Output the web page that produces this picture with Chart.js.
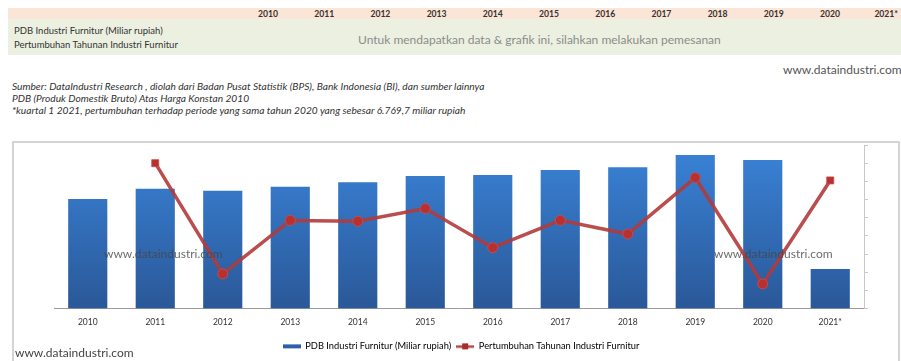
<!DOCTYPE html>
<html>
<head>
<meta charset="utf-8">
<script src="https://cdn.jsdelivr.net/npm/chart.js@4.4.0/dist/chart.umd.min.js"></script>
<style>
    body { margin: 0; width: 901px; height: 361px; background: #fff; font-family: Lato, "Open Sans", sans-serif; position: relative; overflow: hidden; }
    .abs { position: absolute; white-space: nowrap; }
    #head { left: 8px; top: 8px; width: 893px; height: 11px; background: #fbe5d6; }
    #rows { left: 8px; top: 19px; width: 893px; height: 36px; background: #ebf0e1; }
    .yr { font-size: 8.6px; font-weight: bold; color: #333; top: 9px; transform: translateX(-50%); }
    .rowlbl { font-size: 9.5px; color: #333; left: 14px; }
    .src { font-size: 10.2px; font-style: italic; color: #333; left: 12px; }
    .wm { font-size: 12px; color: #555; }
    #box { left: 12px; top: 141px; width: 884px; height: 218px; border: 2px solid #d4d4d4; border-bottom-width: 1px; }
    #wrap { left: 13px; top: 142px; width: 883px; height: 219px; }
</style>
</head>
<body>
<div class="abs" id="head"></div>
<div class="abs" id="rows"></div>
<div id="years"></div>
<div class="abs rowlbl" style="top:25px">PDB Industri Furnitur (Miliar rupiah)</div>
<div class="abs rowlbl" style="top:39px">Pertumbuhan Tahunan Industri Furnitur</div>
<div class="abs" style="left:358px; top:32px; font-size:12px; color:#8c8c8c">Untuk mendapatkan data &amp; grafik ini, silahkan melakukan pemesanan</div>
<div class="abs wm" style="left:783px; top:62px">www.dataindustri.com</div>
<div class="abs src" style="top:80px">Sumber: DataIndustri Research , diolah dari Badan Pusat Statistik (BPS), Bank Indonesia (BI), dan sumber lainnya</div>
<div class="abs src" style="top:92px">PDB (Produk Domestik Bruto) Atas Harga Konstan 2010</div>
<div class="abs src" style="top:104px">*kuartal 1 2021, pertumbuhan terhadap periode yang sama tahun 2020 yang sebesar 6.769,7 miliar rupiah</div>
<div class="abs" id="box"></div>
<div class="abs" id="wrap"><canvas id="myChart"></canvas></div>
<div class="abs wm" style="left:104px; top:246px; color:rgba(70,70,70,0.8)">www.dataindustri.com</div>
<div class="abs wm" style="left:714px; top:246px; color:rgba(70,70,70,0.8)">www.dataindustri.com</div>
<div class="abs wm" style="left:15px; top:345px; color:#444">www.dataindustri.com</div>

<script>
const labels = ['2010', '2011', '2012', '2013', '2014', '2015', '2016', '2017', '2018', '2019', '2020', '2021*'];
const headerYears = ['2010', '2011', '2012', '2013', '2014', '2015', '2016', '2017', '2018', '2019', '2020', '2021*'];
const seriesNames = ['PDB Industri Furnitur (Miliar rupiah)', 'Pertumbuhan Tahunan Industri Furnitur'];
// PDB, miliar rupiah
const pdb = [20070, 21950, 21590, 22320, 23180, 24330, 24510, 25430, 25920, 28170, 27260, 7260];
// pertumbuhan, persen (estimated)
const growth = [null, 10.0, -2.2, 3.7, 3.6, 5.0, 0.7, 3.7, 2.2, 8.4, -3.3, 8.1];
const markerStyles = ['circle', 'rect', 'circle', 'circle', 'circle', 'circle', 'circle', 'circle', 'circle', 'circle', 'circle', 'rect'];

// header years of the table
let yearsDiv = document.getElementById('years');
headerYears.forEach(function (y, i) {
    let d = document.createElement('div');
    d.className = 'abs yr';
    d.style.left = (268 + i * 56.2) + 'px';
    d.textContent = y;
    yearsDiv.appendChild(d);
});

// small legend markers
function makeMarker(kind) {
    let c = document.createElement('canvas');
    c.width = 18;
    c.height = 8;
    let g = c.getContext('2d');
    if (kind === 'bar') {
        g.fillStyle = '#2d60a8';
        g.fillRect(0, 2, 18, 4);
    } else {
        g.fillStyle = '#b84444';
        g.fillRect(0, 3, 18, 2.5);
        g.fillStyle = '#a82c2c';
        g.fillRect(6, 1, 6, 6);
    }
    return c;
}
const barMarker = makeMarker('bar');
const lineMarker = makeMarker('line');

function barGradient(ctx) {
    let chart = ctx.chart;
    let area = chart.chartArea;
    if (!area) return '#2f6cbc';
    let g = chart.ctx.createLinearGradient(0, area.top, 0, area.bottom);
    g.addColorStop(0, '#3a83d8');
    g.addColorStop(1, '#2a5898');
    return g;
}

const data = {
    labels: labels,
    datasets: [
        {
            type: 'bar',
            label: seriesNames[0],
            data: pdb,
            backgroundColor: barGradient,
            borderWidth: 0,
            barPercentage: 0.58,
            categoryPercentage: 1,
            yAxisID: 'y',
            order: 2
        },
        {
            type: 'line',
            label: seriesNames[1],
            data: growth,
            borderColor: 'rgba(178,58,58,0.9)',
            borderWidth: 3.5,
            pointStyle: markerStyles,
            pointRadius: 5,
            pointBackgroundColor: '#b83030',
            pointBorderColor: 'rgba(200,80,80,0.8)',
            pointBorderWidth: 1,
            tension: 0,
            yAxisID: 'y1',
            order: 1
        }
    ]
};

const config = {
    data: data,
    options: {
        responsive: true,
        maintainAspectRatio: false,
        animation: false,
        layout: { autoPadding: false, padding: { left: 41, top: 3, right: 28, bottom: 0 } },
        plugins: {
            tooltip: { enabled: false },
            legend: {
                position: 'bottom',
                labels: {
                    usePointStyle: true,
                    pointStyleWidth: 18,
                    padding: 5,
                    color: '#444',
                    font: { family: 'Lato', size: 9.3 },
                    generateLabels: function () {
                        return [
                            { text: seriesNames[0], pointStyle: barMarker, fillStyle: '#2d60a8', strokeStyle: '#2d60a8', lineWidth: 0, datasetIndex: 0 },
                            { text: seriesNames[1], pointStyle: lineMarker, fillStyle: '#b84444', strokeStyle: '#b84444', lineWidth: 0, datasetIndex: 1 }
                        ];
                    }
                }
            }
        },
        scales: {
            x: {
                grid: { drawOnChartArea: false, drawTicks: false },
                border: { color: '#9a9a9a', width: 1 },
                ticks: { padding: 9, color: '#333', font: { family: 'Lato', size: 8.5 } }
            },
            y: {
                display: false,
                min: 0,
                max: 30000
            },
            y1: {
                position: 'right',
                min: -6,
                max: 12,
                ticks: { display: false, stepSize: 2 },
                grid: { drawOnChartArea: false, drawTicks: true, tickLength: 4, color: '#c8c8c8' },
                border: { color: '#c8c8c8', width: 1 }
            }
        }
    }
};

let myChart = new Chart(
    document.getElementById('myChart'),
    config
);
</script>
</body>
</html>
